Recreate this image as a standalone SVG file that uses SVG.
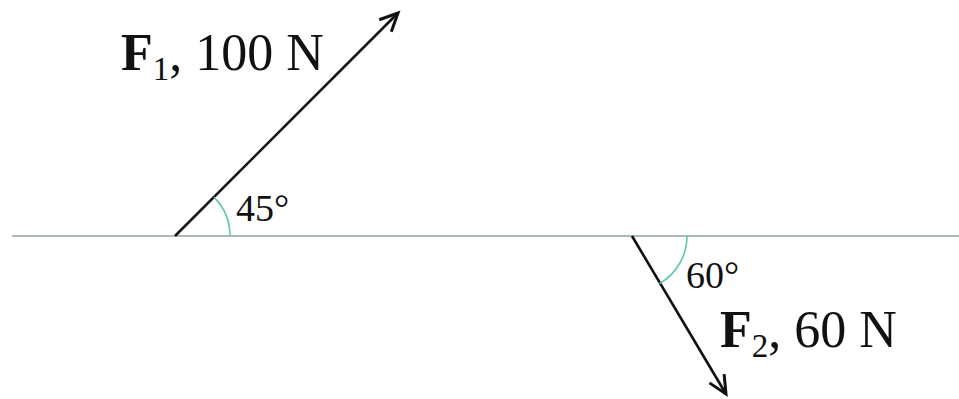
<svg xmlns="http://www.w3.org/2000/svg" width="959" height="399" viewBox="0 0 959 399">
<style>
.lbl{font-family:"Liberation Serif","Times New Roman",serif;fill:#111}
.big{font-size:52px}
.ang{font-size:38px}
.vec{stroke:#111;stroke-width:2.6;fill:none}
.arc{stroke:#5ec9a6;stroke-width:1.6;fill:none}
</style>
<defs>
<marker id="ah" markerUnits="userSpaceOnUse" markerWidth="30" markerHeight="30" refX="20" refY="10" orient="auto" viewBox="0 0 30 20">
<path d="M2,1.5 L20,10 L2,18.5" fill="none" stroke="#111" stroke-width="3" stroke-linejoin="miter"/>
</marker>
</defs>
<rect width="959" height="399" fill="#fff"/>
<g id="ground"><line x1="12" y1="236" x2="959" y2="236" stroke="#a9bcbc" stroke-width="2"/></g>
<g id="connectors">
<line class="vec" x1="175" y1="236" x2="398" y2="13" marker-end="url(#ah)"/>
<line class="vec" x1="632" y1="236" x2="726" y2="394" marker-end="url(#ah)"/>
</g>
<g id="angle45">
<path class="arc" d="M230,236 A55,55 0 0 0 213.9,197.1"/>
<text class="lbl ang" x="236" y="221">45°</text>
</g>
<g id="angle60">
<path class="arc" d="M687,236 A55,55 0 0 1 659.5,283.6"/>
<text class="lbl ang" x="686" y="288">60°</text>
</g>
<g id="F1">
<text class="lbl big" x="121" y="70"><tspan font-weight="bold">F</tspan><tspan font-size="33" dy="10">1</tspan><tspan dy="-10">, 100 N</tspan></text>
</g>
<g id="F2">
<text class="lbl big" x="720" y="347"><tspan font-weight="bold">F</tspan><tspan font-size="33" dy="10">2</tspan><tspan dy="-10">, 60 N</tspan></text>
</g>
</svg>
